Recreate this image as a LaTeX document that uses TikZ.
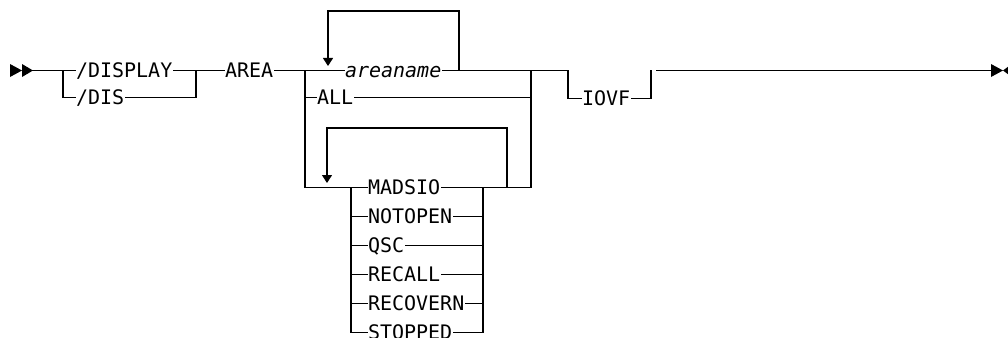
\documentclass[tikz,border=0pt]{standalone}
\usepackage{fontspec}
\setmonofont{DejaVu Sans Mono}
\usetikzlibrary{arrows.meta}
\begin{document}
\begin{tikzpicture}[x=1pt,y=-1pt,
  rail/.style={line width=1.1pt, line cap=rect},
  kw/.style={anchor=west, inner sep=0.8pt, text height=14.5pt, text depth=0pt,
    font=\ttfamily\fontsize{20}{24}\selectfont},
  var/.style={kw, font=\ttfamily\itshape\fontsize{20}{24}\selectfont},
  downarr/.style={rail, -{Triangle[width=10pt,length=8pt]}},
  tip/.style={fill=black, draw=none}]
\useasboundingbox (0,0) rectangle (1008,337);
\clip (0,0) rectangle (1008,337);

% start marker
\fill[tip] (10,64) -- (22,70.5) -- (10,77) -- cycle;
\fill[tip] (22,64) -- (33,70.5) -- (22,77) -- cycle;
\coordinate (s) at (33,70.5);
\coordinate (j1) at (63,70.5);
\coordinate (j2) at (196,70.5);
\coordinate (j3) at (305,70.5);
\coordinate (r1) at (531,70.5);

% nodes
\node[kw] (display) at (75,70.5) {/DISPLAY};
\node[kw] (dis) at (75,97.5) {/DIS};
\node[kw] (area) at (224,70.5) {AREA};
\node[var] (areaname) at (344,70.5) {areaname};
\node[kw] (all) at (316,97.5) {ALL};
\node[kw] (madsio) at (367,187.5) {MADSIO};
\node[kw] (notopen) at (367,216.5) {NOTOPEN};
\node[kw] (qsc) at (367,245.5) {QSC};
\node[kw] (recall) at (367,274.5) {RECALL};
\node[kw] (recovern) at (367,303.5) {RECOVERN};
\node[kw] (stopped) at (367,332.5) {STOPPED};
\node[kw] (iovf) at (581,98.5) {IOVF};

\coordinate (m) at (305,187.5);
\coordinate (j4) at (351,187.5);
\coordinate (k) at (483,187.5);
\coordinate (r2) at (531,187.5);

% first part
\draw[rail] (s) -- (j1) -- (display.west);
\draw[rail] (j1) |- (dis.west);
\draw[rail] (display.east) -- (j2);
\draw[rail] (dis.east) -| (j2);
\draw[rail] (j2) -- (area.west);
\draw[rail] (area.east) -- (j3) -- (areaname.west);
\draw[rail] (areaname.east) -- (r1);
\draw[rail] (j3) |- (all.west);
\draw[rail] (all.east) -| (r1);
\draw[rail] (j3) -- (m) -- (j4) -- (madsio.west);
\draw[rail] (madsio.east) -- (r2) -- (r1);

% repeat loops
\draw[downarr] (459,70.5) -- (459,11) -- (328,11) -- (328,66);
\draw[downarr] (507,187.5) -- (507,128) -- (327,128) -- (327,183);

% choice stack
\foreach \n in {notopen,qsc,recall,recovern} {
  \draw[rail] (j4 |- \n.west) -- (\n.west);
  \draw[rail] (\n.east) -- (k |- \n.west);
}
\draw[rail] (j4) |- (stopped.west);
\draw[rail] (stopped.east) -| (k);
\draw[rail] (k) -- (k |- recovern.west);

% IOVF
\coordinate (i1) at (568,70.5);
\coordinate (i2) at (651,70.5);
\draw[rail] (r1) -- (i1) |- (iovf.west);
\draw[rail] (iovf.east) -| (i2);

% end
\coordinate (e1) at (657,70.5);
\coordinate (e2) at (991,70.5);
\draw[rail] (e1) -- (e2);
\fill[tip] (991,64) -- (1003,70.5) -- (991,77) -- cycle;
\fill[tip] (1009,66) -- (1003,70.5) -- (1009,75) -- cycle;
\end{tikzpicture}
\end{document}
